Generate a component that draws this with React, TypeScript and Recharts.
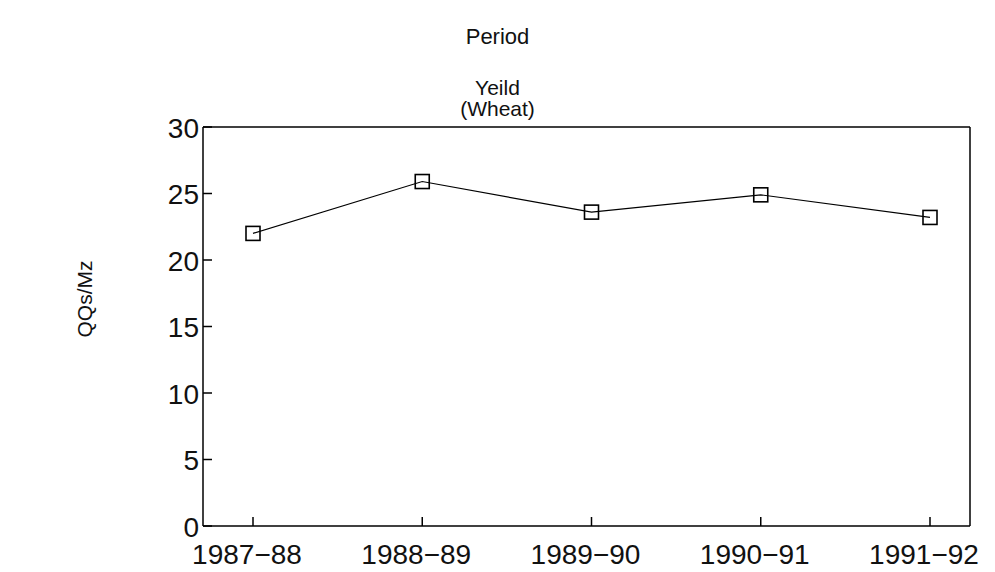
import React from 'react'
import { LineChart, Line, XAxis, YAxis } from 'recharts'

const periods = ['1987−88', '1988−89', '1989−90', '1990−91', '1991−92']
const wheatYield = [22.0, 25.9, 23.6, 24.9, 23.2]
const yTicks = [0, 5, 10, 15, 20, 25, 30]

const chartData = periods.map((p, i) => ({ period: p, value: wheatYield[i] }))

const FONT = '"Liberation Sans", Arial, Helvetica, sans-serif'
const axisStyle = { stroke: '#000', strokeWidth: 1.5 }

const W = 995
const H = 572
const M = { top: 126, right: 24, left: 143, bottom: 6 }
const X_AXIS_H = 40
const Y_AXIS_W = 60
const PLOT_BOTTOM = H - M.bottom - X_AXIS_H
const PLOT_LEFT = M.left + Y_AXIS_W

// inner tick marks, like the original plot
function XTick({ x, payload }: any) {
  return (
    <g>
      <line x1={x} y1={PLOT_BOTTOM} x2={x} y2={PLOT_BOTTOM - 9} stroke="#000" strokeWidth={1.5} />
      <text x={x - 6} y={PLOT_BOTTOM + 28} textAnchor="middle" dominantBaseline="central" fontSize={28} fontFamily={FONT} fill="#111">
        {payload.value}
      </text>
    </g>
  )
}

function YTick({ y, payload }: any) {
  return (
    <g>
      <line x1={PLOT_LEFT} y1={y} x2={PLOT_LEFT + 9} y2={y} stroke="#000" strokeWidth={1.5} />
      <text x={PLOT_LEFT - 4} y={y + 1} textAnchor="end" dominantBaseline="central" fontSize={28} fontFamily={FONT} fill="#111">
        {payload.value}
      </text>
    </g>
  )
}

function SquareDot(props: any) {
  const { cx, cy, index } = props
  return <rect key={`sq-${index}`} x={cx - 7} y={cy - 7} width={14} height={14} fill="none" stroke="#000" strokeWidth={1.6} />
}

export default function App() {
  return (
    <div style={{ position: 'absolute', left: 0, top: 0, width: W, height: H, background: '#fff', fontFamily: FONT }}>
      <div style={{ position: 'absolute', left: 0, width: W, top: 24, textAlign: 'center', fontSize: 22, lineHeight: '26px', color: '#111' }}>
        Period
      </div>
      <div style={{ position: 'absolute', left: 0, width: W, top: 77, textAlign: 'center', fontSize: 21, lineHeight: '21px', color: '#111' }}>
        <div>Yeild</div>
        <div>(Wheat)</div>
      </div>
      <div
        style={{
          position: 'absolute',
          left: 85,
          top: 299,
          transform: 'translate(-50%, -50%) rotate(-90deg)',
          fontSize: 21,
          color: '#111',
          whiteSpace: 'nowrap',
        }}
      >
        QQs/Mz
      </div>
      <LineChart width={W} height={H} data={chartData} margin={M}>
        <XAxis
          dataKey="period"
          interval={0}
          height={X_AXIS_H}
          tickSize={0}
          tickLine={false}
          tick={<XTick />}
          padding={{ left: 50, right: 40 }}
          axisLine={axisStyle}
        />
        <XAxis xAxisId="top" orientation="top" dataKey="period" height={1} tick={false} tickLine={false} axisLine={axisStyle} />
        <YAxis
          domain={[0, 30]}
          ticks={yTicks}
          width={Y_AXIS_W}
          tickSize={0}
          tickLine={false}
          tick={<YTick />}
          axisLine={axisStyle}
        />
        <YAxis yAxisId="right" orientation="right" domain={[0, 30]} width={1} tick={false} tickLine={false} axisLine={axisStyle} />
        <Line
          type="linear"
          dataKey="value"
          stroke="#000"
          strokeWidth={1.2}
          dot={SquareDot}
          activeDot={false}
          isAnimationActive={false}
        />
      </LineChart>
    </div>
  )
}
